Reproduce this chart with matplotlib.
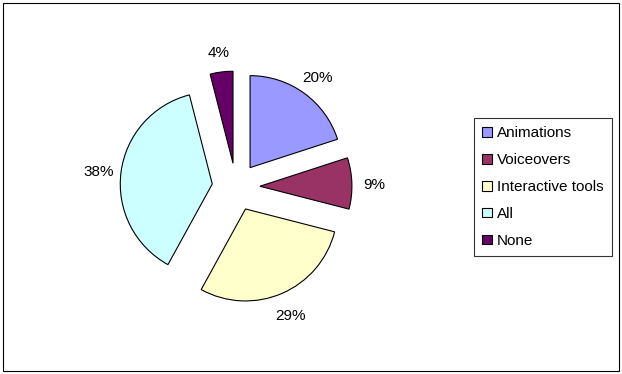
import matplotlib.pyplot as plt
from matplotlib.patches import Rectangle

labels = ['Animations', 'Voiceovers', 'Interactive tools', 'All', 'None']
values = [20, 9, 29, 38, 4]
colors = ['#9999FF', '#993366', '#FFFFCC', '#CCFFFF', '#660066']

plt.rcParams['font.family'] = ['Liberation Sans', 'DejaVu Sans']

fig = plt.figure(figsize=(6.22, 3.74), dpi=100)
ax = fig.add_axes([0, 0, 1, 1])

# 每块都分离出来
explode = [0.26] * len(values)
wedges, texts, autotexts = ax.pie(
    values, colors=colors, explode=explode, startangle=90, counterclock=False,
    autopct='%d%%', pctdistance=1.24,
    wedgeprops=dict(edgecolor='black', linewidth=0.8),
    textprops=dict(fontsize=11, color='black'))

# 标签稍微往下移一点
for t in autotexts:
    x, y = t.get_position()
    t.set_position((x, y - 0.03))

# 像素比例：半径约 92 px，圆心在 (236, 187)
r_px = 92.0
ax.set_xlim(-236 / r_px, (622 - 236) / r_px)
ax.set_ylim(-(374 - 187) / r_px, 187 / r_px)
ax.set_aspect('auto')
ax.axis('off')

leg = ax.legend(wedges, labels, loc='upper left',
                bbox_to_anchor=(474 / 622, 1 - 118 / 374),
                bbox_transform=fig.transFigure, borderaxespad=0,
                fontsize=11, handlelength=0.6, handleheight=0.6,
                handletextpad=0.35, labelspacing=0.84, borderpad=0.55,
                fancybox=False, frameon=True)
leg.get_frame().set_edgecolor('black')
leg.get_frame().set_linewidth(0.8)

fig.patches.append(Rectangle((3 / 622, 3 / 374), 616 / 622, 368 / 374,
                             transform=fig.transFigure, fill=False,
                             edgecolor='black', linewidth=0.8))

fig.savefig('out.png', dpi=100)
